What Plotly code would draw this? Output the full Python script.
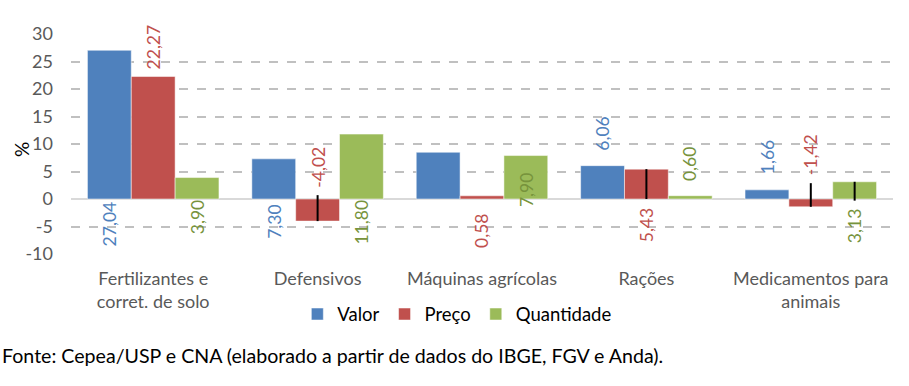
import plotly.graph_objects as go

categories = ["Fertilizantes e<br>corret. de solo", "Defensivos", "Máquinas agrícolas",
              "Rações", "Medicamentos para<br>animais"]
series_names = ["Valor", "Preço", "Quantidade"]
valor = [27.04, 7.30, 8.50, 6.06, 1.66]
preco = [22.27, -4.02, 0.58, 5.43, -1.42]
quantidade = [3.90, 11.80, 7.90, 0.60, 3.13]
valor_labels = ["27,04", "7,30", None, "6,06", "1,66"]
preco_labels = ["22,27", "-4,02", "0,58", "5,43", "-1,42"]
quantidade_labels = ["3,90", "11,80", "7,90", "0,60", "3,13"]
# black leader marks seen in the original (length above / below the bar end)
preco_mark_up = [0, 4.72, 0, 0, 4.30]
preco_mark_down = [0, 0, 0, 5.43, 0]
quant_mark_up = [0, 0, 0, 0, 0]
quant_mark_down = [0, 0, 0, 0, 3.43]
y_ticks = [-10, -5, 0, 5, 10, 15, 20, 25, 30]
y_tick_labels = ["-10", "-5", "0", "5", "10", "15", "20", "25", "30"]
y_title = "%"
source_text = "Fonte: Cepea/USP e CNA (elaborado a partir de dados do IBGE, FGV e Anda)."

# label anchor heights (centre of rotated text, in axis units)
valor_label_y = [-4.55, -4.2, None, 11.8, 7.6]
preco_label_y = [27.6, 5.8, -5.8, -4.7, 8.1]
quant_label_y = [-3.3, -4.2, 1.6, 6.4, -5.0]

colors = ["#4F81BD", "#C0504D", "#9BBB59"]
label_colors = ["#4F81BD", "#C0504D", "#77933C"]
FONT = "Lato, Liberation Sans, sans-serif"

fig = go.Figure()
values = [valor, preco, quantidade]
marks = [None, (preco_mark_up, preco_mark_down), (quant_mark_up, quant_mark_down)]
for name, vals, col, mk in zip(series_names, values, colors, marks):
    kw = {}
    if mk is not None:
        kw["error_y"] = dict(type="data", symmetric=False, array=mk[0], arrayminus=mk[1],
                             color="black", thickness=2, width=0)
    fig.add_trace(go.Bar(x=categories, y=vals, name=name, marker_color=col,
                         marker_line=dict(width=1, color="rgba(255,255,255,0.5)"), **kw))

bargap = 0.2
bw = (1 - bargap) / 3
labels_all = [valor_labels, preco_labels, quantidade_labels]
ly_all = [valor_label_y, preco_label_y, quant_label_y]
for k, (labs, lys, col) in enumerate(zip(labels_all, ly_all, label_colors)):
    for i, (lab, ly) in enumerate(zip(labs, lys)):
        if lab is None:
            continue
        fig.add_annotation(x=i + (k - 1) * bw, y=ly, xref="x", yref="y", text=lab,
                           textangle=-90, showarrow=False, xanchor="center", yanchor="middle",
                           font=dict(family=FONT, size=17.5, color=col))

fig.add_annotation(x=-71 / 822, y=-0.46, xref="paper", yref="paper", text=source_text,
                   showarrow=False, xanchor="left", yanchor="middle",
                   font=dict(family=FONT, size=19.6, color="#000000"))
fig.add_annotation(x=-49 / 822, y=0.473, xref="paper", yref="paper", text=y_title,
                   textangle=-90, showarrow=False, xanchor="center", yanchor="middle",
                   font=dict(family=FONT, size=19, color="#000000"))

fig.update_layout(
    width=909, height=386,
    margin=dict(l=71, r=16, t=34, b=132, autoexpand=False),
    paper_bgcolor="white", plot_bgcolor="white",
    barmode="group", bargap=bargap, bargroupgap=0,
    font=dict(family=FONT, size=16, color="#595959"),
    legend=dict(orientation="h", x=0.47, xanchor="center", y=-0.275, yanchor="middle",
                font=dict(family=FONT, size=18.5, color="#000000"),
                itemwidth=30, tracegroupgap=0, bgcolor="rgba(0,0,0,0)"),
    showlegend=True,
)
fig.update_yaxes(range=[-10, 30], tickvals=y_ticks, ticktext=y_tick_labels, showgrid=True,
                 gridcolor="#C0C0C0", griddash="dash", gridwidth=1.5, zeroline=True,
                 zerolinecolor="#D9D9D9", zerolinewidth=2, showline=False,
                 ticklabelstandoff=17, automargin=False,
                 tickfont=dict(family=FONT, size=18, color="#595959"))
fig.update_xaxes(showgrid=False, showline=False, ticks="", ticklabelstandoff=12, automargin=False,
                 tickfont=dict(family=FONT, size=18, color="#595959"))

fig.write_html("out.html", config={"displayModeBar": False},
               post_script="document.body.style.margin='0';")
